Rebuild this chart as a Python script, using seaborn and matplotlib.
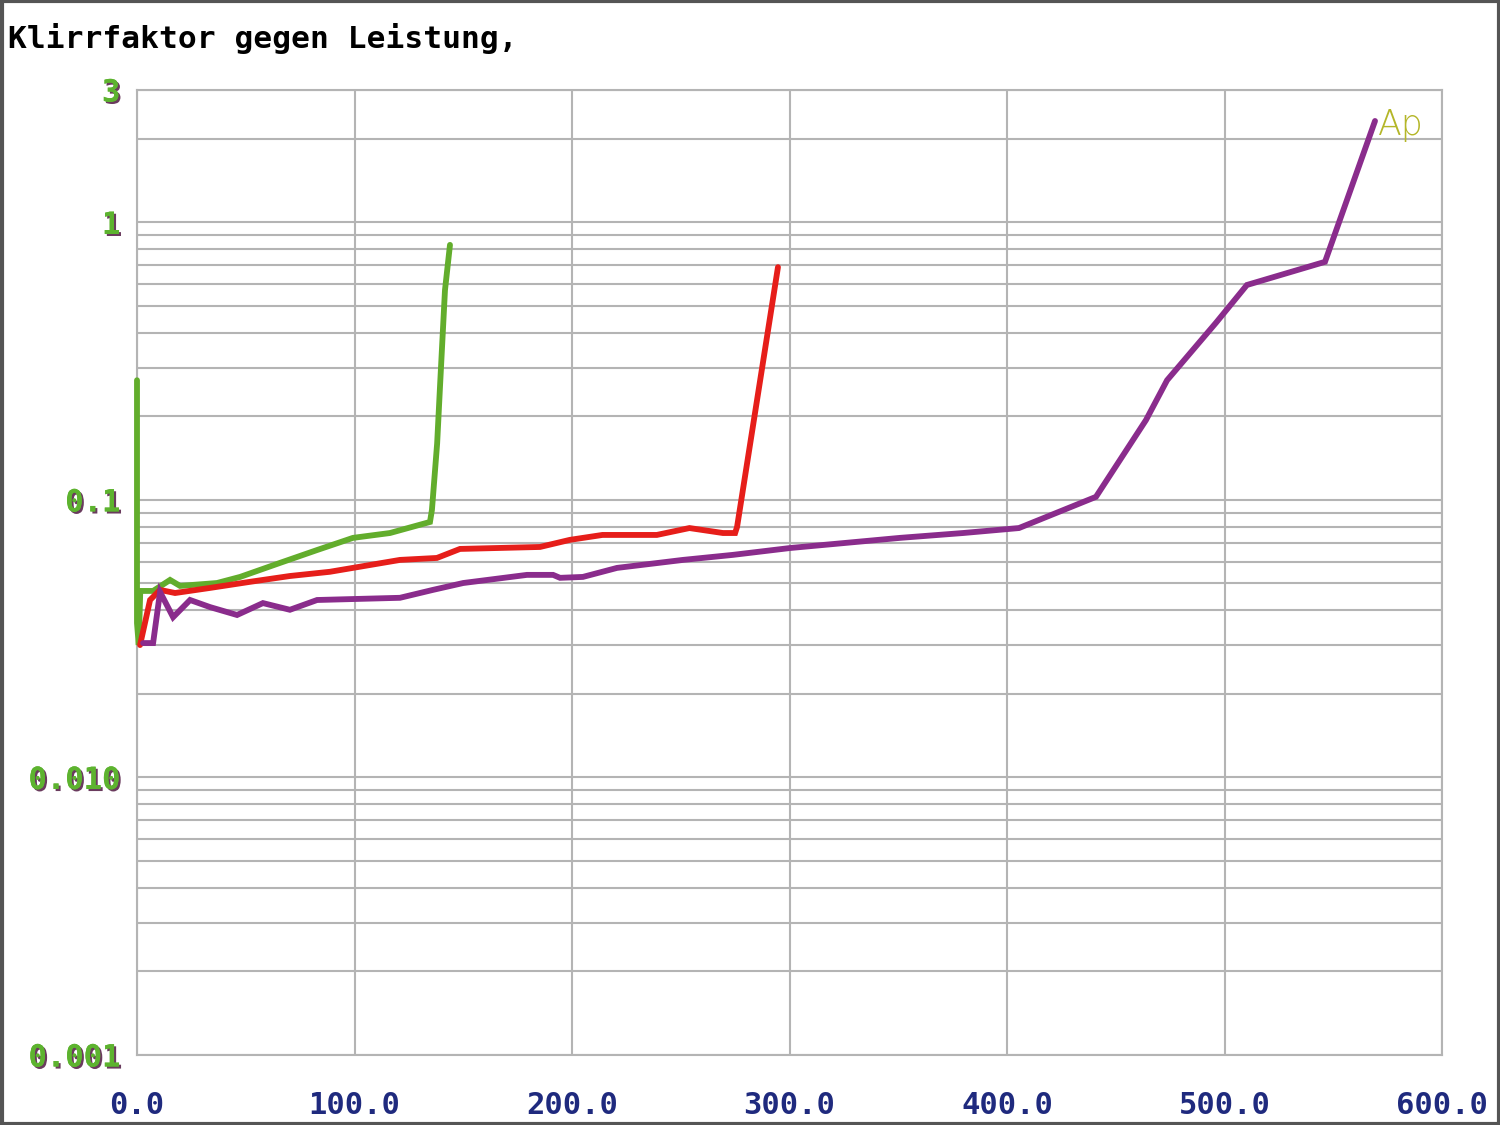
import numpy as np
import pandas as pd
import matplotlib
matplotlib.use("Agg")
import matplotlib.pyplot as plt
import matplotlib.patheffects as pe
from matplotlib.ticker import LogLocator, NullFormatter, FixedLocator
import seaborn as sns

# ---- data ----
green_x = [0.0, 0.0, 0.8, 1.5, 7.4, 15.2, 19.8, 36.8, 47.4, 65.7, 82.8, 99.3, 116.3, 134.7, 135.6, 138.0, 139.3, 141.6, 143.9]
green_y = [0.27, 0.036, 0.030, 0.047, 0.047, 0.0515, 0.049, 0.0502, 0.0528, 0.0593, 0.066, 0.073, 0.076, 0.0833, 0.092, 0.16, 0.255, 0.57, 0.83]

red_x = [1.4, 6.0, 10.6, 17.5, 33.6, 52.0, 70.3, 88.7, 120.9, 137.9, 148.5, 185.3, 199.0, 214.0, 239.0, 254.0, 269.4, 275.0, 275.9, 294.7]
red_y = [0.030, 0.0436, 0.0474, 0.0462, 0.0482, 0.0507, 0.0532, 0.0551, 0.0608, 0.0618, 0.0666, 0.0677, 0.0718, 0.0748, 0.0748, 0.0792, 0.076, 0.076, 0.080, 0.69]

purple_x = [2.8, 7.4, 10.6, 16.6, 24.4, 33.6, 46.0, 57.9, 70.3, 82.8, 120.9, 136.0, 150.0, 179.3, 191.3, 194.5, 205.0, 220.7, 251.0, 274.0, 300.2, 350.8, 379.8, 405.5, 440.9, 463.9, 473.6, 496.1, 510.3, 546.2, 569.2]
purple_y = [0.0305, 0.0305, 0.0466, 0.0378, 0.0436, 0.0411, 0.0385, 0.0425, 0.0402, 0.0436, 0.0444, 0.0474, 0.0502, 0.0537, 0.0537, 0.0524, 0.0528, 0.0569, 0.0608, 0.0634, 0.0671, 0.073, 0.076, 0.0792, 0.1026, 0.194, 0.270, 0.435, 0.595, 0.721, 2.32]

x_ticks = [0, 100, 200, 300, 400, 500, 600]
x_tick_labels = ["0.0", "100.0", "200.0", "300.0", "400.0", "500.0", "600.0"]
y_ticks = [0.001, 0.01, 0.1, 1, 3]
y_tick_labels = ["0.001", "0.010", "0.1", "1", "3"]
title = "Klirrfaktor gegen Leistung,"

series_names = ["green", "red", "purple"]
colors = {"green": "#62ad2c", "red": "#e61e1a", "purple": "#8a2c8c"}

df = pd.concat([
    pd.DataFrame({"P": green_x, "THD": green_y, "s": "green"}),
    pd.DataFrame({"P": red_x, "THD": red_y, "s": "red"}),
    pd.DataFrame({"P": purple_x, "THD": purple_y, "s": "purple"}),
], ignore_index=True)

sns.set_theme(style="white")
plt.rcParams["font.family"] = ["DejaVu Sans Mono", "DejaVu Sans"]

fig = plt.figure(figsize=(15, 11.25), dpi=100)
ax = fig.add_axes([137/1500, 1 - 1055/1125, (1442-137)/1500, (1055-90)/1125])

ax.set_yscale("log")
ax.set_xlim(0, 600)
ax.set_ylim(0.001, 3)

grid_c = "#b4b4b4"
ax.yaxis.set_minor_locator(LogLocator(base=10, subs=np.arange(2, 10), numticks=20))
ax.yaxis.set_minor_formatter(NullFormatter())
ax.xaxis.set_major_locator(FixedLocator(x_ticks))
ax.set_yticks(y_ticks)
ax.grid(True, which="major", axis="both", color=grid_c, lw=1.5)
ax.grid(True, which="minor", axis="y", color=grid_c, lw=1.5)
ax.set_axisbelow(True)

for name in series_names:
    sub = df[df["s"] == name]
    sns.lineplot(data=sub, x="P", y="THD", sort=False, estimator=None,
                 color=colors[name], lw=4.2, ax=ax, legend=False)
for ln in ax.get_lines():
    ln.set_clip_on(False)
    ln.set_solid_joinstyle("miter")
    ln.set_zorder(3)

ax.set_xlabel("")
ax.set_ylabel("")
for sp in ax.spines.values():
    sp.set_color(grid_c)
    sp.set_linewidth(1.5)

ax.set_xticks(x_ticks)
ax.set_xticklabels(x_tick_labels, fontsize=22, fontweight="bold", color="#1f2a7e")
ax.set_yticklabels(y_tick_labels, fontsize=22, fontweight="bold", color="#5db32f")
for t in ax.get_yticklabels():
    t.set_path_effects([pe.withSimplePatchShadow(offset=(1.5, -1.5), shadow_rgbFace="#6a3b5e", alpha=1.0), pe.Normal()])
ax.tick_params(axis="x", length=0, pad=26)
ax.tick_params(axis="y", length=0, pad=12)
ax.tick_params(axis="y", which="minor", length=0)

fig.text(8/1500, 1 - 38/1125, title, fontsize=22.5, color="black", fontweight="bold",
         ha="left", va="center", family=["DejaVu Sans Mono"])
ax.text(570.5, 2.25, "Ap", fontsize=25, color="#b4b628", ha="left", va="center",
        family=["DejaVu Sans"], fontweight="light")

fig.patches.append(plt.Rectangle((0.001, 0.001), 0.998, 0.998, transform=fig.transFigure,
                                 fill=False, edgecolor="#555555", lw=3))

fig.savefig("out.png", dpi=100, facecolor="white")
